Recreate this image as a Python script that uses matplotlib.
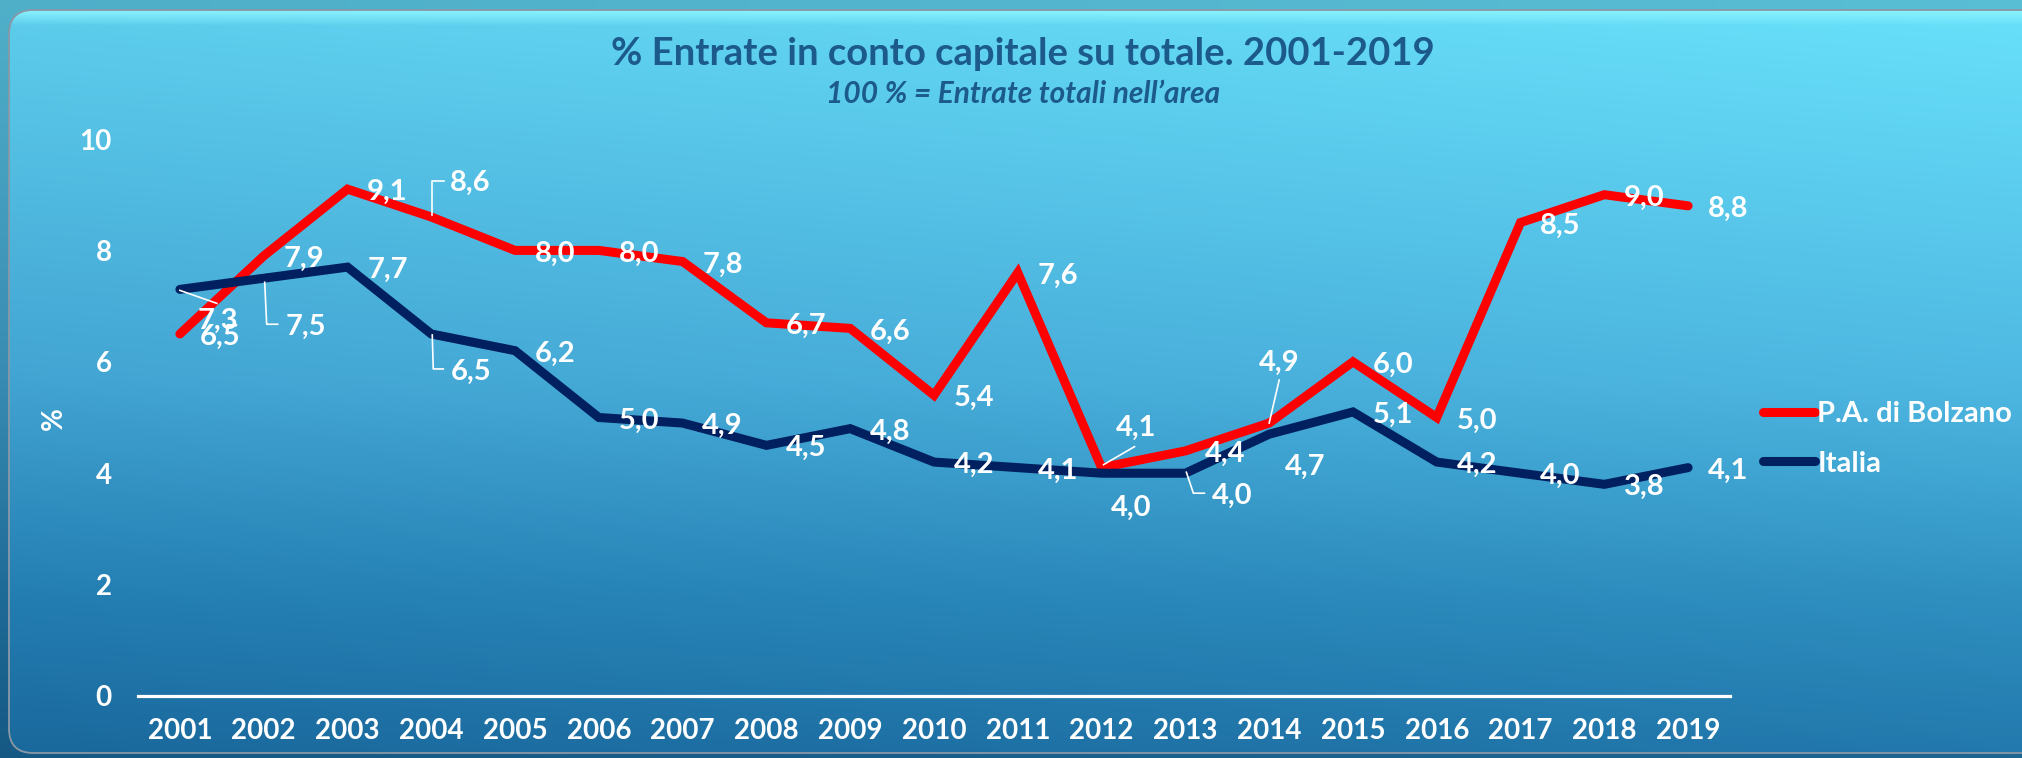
import numpy as np
import matplotlib
matplotlib.use('Agg')
import matplotlib.pyplot as plt
import matplotlib.transforms as mtransforms
from matplotlib.patches import FancyBboxPatch

# ---------------- data ----------------
years = [str(y) for y in range(2001, 2020)]
bolzano = [6.5, 7.9, 9.1, 8.6, 8.0, 8.0, 7.8, 6.7, 6.6, 5.4, 7.6, 4.1, 4.4, 4.9, 6.0, 5.0, 8.5, 9.0, 8.8]
italia = [7.3, 7.5, 7.7, 6.5, 6.2, 5.0, 4.9, 4.5, 4.8, 4.2, 4.1, 4.0, 4.0, 4.7, 5.1, 4.2, 4.0, 3.8, 4.1]
series_names = ['P.A. di Bolzano', 'Italia']
yticks = [0, 2, 4, 6, 8, 10]
title = '% Entrate in conto capitale su totale. 2001-2019'
subtitle = '100 % = Entrate totali nell\u2019area'
ylabel = '%'

# ---------------- style / layout ----------------
plt.rcParams['font.family'] = ['Lato', 'DejaVu Sans']
W, H, DPI = 2022, 758, 100
RED, NAVY = '#ff0000', '#002060'
TITLE_COL = '#1b5a8a'
FS_TICK = 20
FS_LAB = 21
PX = 72.0 / DPI  # px -> points

# label offsets (pixels, dx right, dy down) from each data point
default_off = (40, 3)
red_off = {3: (39, -34), 11: (35, -40), 13: (10, -60)}
ita_off = {0: (38, 31), 1: (42, 49), 3: (40, 38), 11: (30, 35), 12: (47, 23), 13: (36, 33)}
red_leaders = {3: [(1, -2), (1, -36), (13, -36)], 11: [(2, -3), (33, -21)], 13: [(0, 0), (10, -43)]}
ita_leaders = {0: [(0, 1), (37, 14)], 1: [(1, 4), (3, 46), (14, 46)],
               3: [(1, 1), (2, 35), (12, 35)], 12: [(1, -1), (8, 20), (19, 20)]}

fig = plt.figure(figsize=(W / DPI, H / DPI), dpi=DPI)

# ---------------- background ----------------
bg = fig.add_axes([0, 0, 1, 1], zorder=-10)
bg.set_axis_off()
ny, nx = 300, 200
yy = np.linspace(0, 1, ny)[:, None]
xx = np.linspace(0, 1, nx)[None, :]
stops = np.array([0.0, 0.02, 0.5, 0.79, 1.0])
left_cols = np.array([[93, 205, 236], [93, 205, 236], [66, 164, 210], [35, 125, 177], [26, 104, 156]]) / 255
right_cols = np.array([[104, 224, 250], [104, 224, 250], [78, 184, 226], [47, 144, 192], [34, 120, 172]]) / 255
img = np.zeros((ny, nx, 3))
for c in range(3):
    lc = np.interp(yy[:, 0], stops, left_cols[:, c])[:, None]
    rc = np.interp(yy[:, 0], stops, right_cols[:, c])[:, None]
    img[:, :, c] = lc + (rc - lc) * xx
outer = img * 0.85
bg.imshow(outer, extent=[0, 1, 0, 1], aspect='auto', origin='upper', zorder=0)
bg.set_xlim(0, 1)
bg.set_ylim(0, 1)
panel = FancyBboxPatch((9 / W, 1 - 753 / H), 1.2, (753 - 10) / H,
                       boxstyle='round,pad=0,rounding_size=0.012',
                       transform=bg.transAxes, facecolor='none', edgecolor='none',
                       mutation_aspect=W / H)
bg.add_patch(panel)
im = bg.imshow(img, extent=[0, 1, 0, 1], aspect='auto', origin='upper', zorder=1)
im.set_clip_path(panel)
# top highlight band
band = np.zeros((20, 2, 4))
band[:, :, 0] = 0.55
band[:, :, 1] = 0.96
band[:, :, 2] = 1.0
band[:, :, 3] = np.linspace(0.9, 0.0, 20)[:, None]
bim = bg.imshow(band, extent=[0, 1, 1 - 26 / H, 1 - 11 / H], aspect='auto', origin='upper', zorder=2)
bim.set_clip_path(panel)
border = FancyBboxPatch((9 / W, 1 - 753 / H), 1.2, (753 - 10) / H,
                        boxstyle='round,pad=0,rounding_size=0.012',
                        transform=bg.transAxes, facecolor='none', edgecolor='#8a98a6',
                        linewidth=1.3, mutation_aspect=W / H, zorder=3)
bg.add_patch(border)

# ---------------- main axes ----------------
ax = fig.add_axes([138 / W, (H - 696) / H, 1592 / W, 557 / H])
ax.patch.set_alpha(0)
x = np.arange(len(years))
ax.plot(x, bolzano, color=RED, lw=6.5, solid_capstyle='round', solid_joinstyle='miter',
        label=series_names[0], zorder=3)
ax.plot(x, italia, color=NAVY, lw=6.5, solid_capstyle='round', solid_joinstyle='miter',
        label=series_names[1], zorder=3)
ax.set_xlim(-0.5, len(years) - 0.5)
ax.set_ylim(0, 10)
ax.set_yticks(yticks)
ax.set_yticklabels([str(t) for t in yticks])
ax.set_xticks(x)
ax.set_xticklabels(years)
for s in ['top', 'right', 'left']:
    ax.spines[s].set_visible(False)
ax.spines['bottom'].set_color('white')
ax.spines['bottom'].set_linewidth(2.3)
ax.tick_params(axis='both', length=0, colors='white', labelsize=FS_TICK)
ax.tick_params(axis='y', pad=19)
ax.tick_params(axis='x', pad=16)
for lab in ax.get_xticklabels() + ax.get_yticklabels():
    lab.set_fontweight('bold')


def leader(i, v, pts):
    tr = (mtransforms.Affine2D().scale(PX / 72.0) + fig.dpi_scale_trans +
          mtransforms.ScaledTranslation(i, v, ax.transData))
    xs = [p[0] for p in pts]
    ys = [-p[1] for p in pts]
    ax.plot(xs, ys, color='white', lw=1.2, transform=tr, zorder=4, clip_on=False)


for vals, offs, leads in [(bolzano, red_off, red_leaders), (italia, ita_off, ita_leaders)]:
    for i, v in enumerate(vals):
        dx, dy = offs.get(i, default_off)
        ax.annotate(f'{v:.1f}'.replace('.', ','), (i, v), xytext=(dx * PX, -dy * PX),
                    textcoords='offset points', ha='center', va='center',
                    color='white', fontsize=FS_LAB, fontweight='bold', zorder=5,
                    annotation_clip=False)
        if i in leads:
            leader(i, v, leads[i])

leg = ax.legend(loc='center left', bbox_to_anchor=(1763 / W, 1 - 439 / H),
                bbox_transform=fig.transFigure, frameon=False, fontsize=FS_LAB,
                handlelength=1.78, handletextpad=0.08, labelspacing=0.8,
                borderpad=0, borderaxespad=0)
for t in leg.get_texts():
    t.set_color('white')
    t.set_fontweight('bold')
for ln in leg.get_lines():
    ln.set_solid_capstyle('round')

# ---------------- titles ----------------
fig.text(1023 / W, 1 - 54 / H, title, ha='center', va='center', fontsize=27.5,
         fontweight='bold', color=TITLE_COL)
fig.text(1023 / W, 1 - 94 / H, subtitle, ha='center', va='center', fontsize=21.5,
         fontweight='bold', fontstyle='italic', color=TITLE_COL)
fig.text(54 / W, 1 - 419 / H, ylabel, ha='center', va='center', rotation=90,
         fontsize=FS_TICK, fontweight='bold', color='white')

fig.savefig('out.png', dpi=DPI)
